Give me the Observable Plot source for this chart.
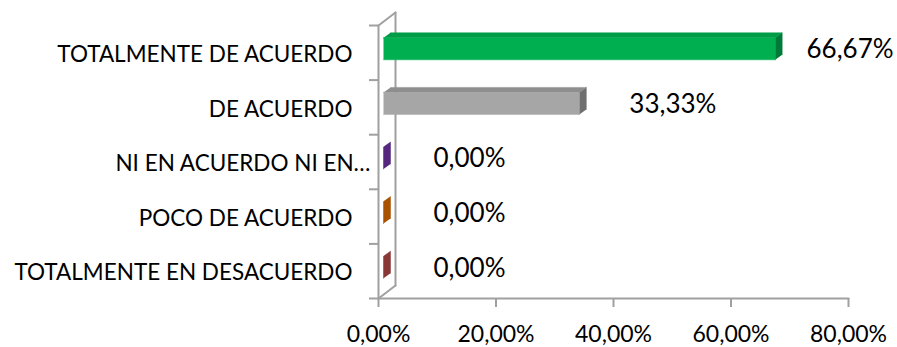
<!DOCTYPE html>
<html>
<head>
<meta charset="utf-8">
<script src="https://cdn.jsdelivr.net/npm/d3@7"></script>
<script src="https://cdn.jsdelivr.net/npm/@observablehq/plot@0.6"></script>
<style>
  html, body { margin: 0; padding: 0; background: #fff; }
</style>
</head>
<body>
<div id="chart"></div>
<script>
// Survey answers, listed top to bottom
const categories = [
  "TOTALMENTE DE ACUERDO",
  "DE ACUERDO",
  "NI EN ACUERDO NI EN…",
  "POCO DE ACUERDO",
  "TOTALMENTE EN DESACUERDO"
];
const values = [66.67, 33.33, 0, 0, 0];
const xTicks = [0, 20, 40, 60, 80];

// Face colours of each 3D bar (front, top, end)
const frontColors = ["#00B050", "#A6A6A6", "#7030A0", "#E46C0A", "#C0504D"];
const topColors   = ["#009C47", "#8E8E8E", "#5E2A8C", "#B85C06", "#943B39"];
const sideColors  = ["#007A36", "#6F6F6F", "#55277F", "#A85200", "#8A3737"];

// Layout
const W = 897, H = 347;
const mL = 378, mR = 49, mT = 25, mB = 49;
const xMax = 80, yMax = categories.length;
const px2x = xMax / (W - mL - mR);   // data units per pixel, x
const px2y = yMax / (H - mT - mB);   // data units per pixel, y

const pct = v => v.toFixed(2).replace(".", ",") + "%";

const rows = categories.map((c, i) => ({
  category: c,
  value: values[i],
  yc: yMax - i - 0.5,
  i
}));

// 3D geometry (pixels): bar front offset, half thickness, depth vector
const offX = 5, offY = 4, half = 11, depX = 7, depY = 5;

const faces = [];
rows.forEach(r => {
  const x0 = offX * px2x, x1 = r.value + offX * px2x;
  const yb = r.yc + (offY - half) * px2y, yt = r.yc + (offY + half) * px2y;
  const dx = depX * px2x, dy = depY * px2y;
  const add = (kind, color, pts) =>
    pts.forEach(([x, y]) => faces.push({id: `${r.i}-${kind}`, kind, value: r.value, color, x, y}));
  add("front", frontColors[r.i], [[x0, yb], [x1, yb], [x1, yt], [x0, yt]]);
  add("top", topColors[r.i], [[x0, yt], [x1, yt], [x1 + dx, yt + dy], [x0 + dx, yt + dy]]);
  add("side", sideColors[r.i], [[x1, yb], [x1, yt], [x1 + dx, yt + dy], [x1 + dx, yb + dy]]);
});
const faceMark = kind => Plot.line(
  faces.filter(f => f.kind === kind && (kind === "side" || f.value > 0)),
  {x: "x", y: "y", z: "id", fill: "color", stroke: "color", strokeWidth: 0.5}
);

// Side wall outline and floor edge
const wx = 17 * px2x, wy = 13 * px2y;
const walls = [
  {s: "a", x: 0, y: 0}, {s: "a", x: 0, y: yMax},
  {s: "b", x: 0, y: yMax}, {s: "b", x: wx, y: yMax + wy},
  {s: "c", x: wx, y: yMax + wy}, {s: "c", x: wx, y: wy},
  {s: "d", x: 0, y: 0}, {s: "d", x: wx, y: wy},
  {s: "e", x: 0, y: 0}, {s: "e", x: xMax, y: 0}
];

const lineColor = "#A0A0A0";
const font = "Lato, 'Open Sans', sans-serif";

const chart = Plot.plot({
  width: W,
  height: H,
  marginLeft: mL,
  marginRight: mR,
  marginTop: mT,
  marginBottom: mB,
  x: {domain: [0, xMax], axis: null},
  y: {domain: [0, yMax], axis: null},
  color: {type: "identity"},
  style: {fontFamily: font, background: "#fff", color: "#000", overflow: "visible"},
  marks: [
    Plot.line(walls, {x: "x", y: "y", z: "s", stroke: lineColor, strokeWidth: 2}),
    Plot.ruleY(d3.range(yMax + 1), {y: d => d, x1: -9 * px2x, x2: 0, stroke: lineColor, strokeWidth: 2}),
    Plot.ruleX(xTicks, {x: d => d, y1: 0, y2: -9 * px2y, stroke: lineColor, strokeWidth: 2}),
    faceMark("side"),
    faceMark("top"),
    faceMark("front"),
    // category labels (the clipped one keeps its ellipsis past the common edge)
    Plot.text(rows.filter(r => !r.category.endsWith("…")), {
      x: 0, y: "yc", text: "category", textAnchor: "end", dx: -26, dy: 2,
      fontSize: 22.5, fill: "#000"
    }),
    Plot.text(rows.filter(r => r.category.endsWith("…")), {
      x: 0, y: "yc", text: "category", textAnchor: "end", dx: -8, dy: 2,
      fontSize: 22.5, fill: "#000"
    }),
    // value labels
    Plot.text(rows, {
      x: r => Math.min(r.value + 55 * px2x, xMax - 42 * px2x),
      y: "yc", text: r => pct(r.value), textAnchor: "start", dy: -3,
      fontSize: 26, fill: "#000"
    }),
    // x tick labels
    Plot.text(xTicks, {
      x: d => d, y: 0, text: d => pct(d), dy: 36,
      fontSize: 23, fill: "#000"
    })
  ]
});

document.getElementById("chart").append(chart);
</script>
</body>
</html>
